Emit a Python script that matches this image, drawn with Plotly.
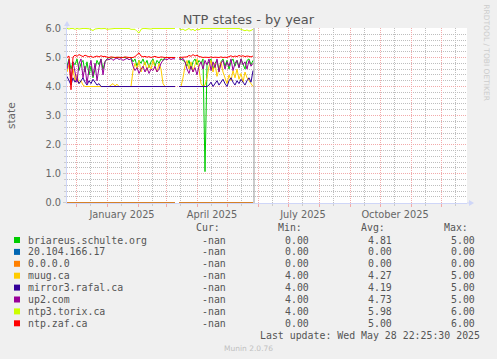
import plotly.graph_objects as go
import pandas as pd

# ---------------- data (2-day steps) ----------------
dates = pd.date_range("2024-11-22", periods=94, freq="2D")

green = [4.7, 4.95, 4.6, 4.85, 4.75, 4.95, 4.55, 4.8, 4.9, 4.5, 4.85,
         4.4, 4.7, 4.3, 4.6, 4.9, 4.75, 4.95, 4.6, 4.85, 4.95,
         5.0, 4.97, 5.0, 5.0, 5.0, 4.98, 5.0, 5.0, 5.0, 4.97, 5.0, 5.0,
         4.85, 4.95, 4.7, 4.9, 4.8, 4.95, 4.75, 4.9, 4.65, 4.85, 4.95, 4.7, 4.9, 4.8, 4.95, 4.9,
         5.0, 5.0, 5.0, 5.0, 5.0, 5.0,
         None,
         5.0, 4.95, 4.9, 4.85,
         4.7, 4.9, 4.6, 4.85, 4.95, 4.75, 4.9,
         4.8, 4.95, 1.07, 4.75,
         4.85, 4.95, 4.6, 4.8, 4.9, 4.55, 4.85, 4.95, 4.7, 4.9,
         4.6, 4.85, 4.95, 4.7, 4.9, 4.65, 4.95, 4.8, 4.6, 4.9, 4.95, 4.75, 4.9]

blue = [0.0, 0.0, 0.0, 0.0, 0.0, 0.0, 0.0, 0.0, 0.0, 0.0, 0.0, 0.0, 0.0, 0.0, 0.0, 0.0,
        0.0, 0.0, 0.0, 0.0, 0.0, 0.0, 0.0, 0.0, 0.0, 0.0, 0.0, 0.0, 0.0, 0.0, 0.0, 0.0,
        0.0, 0.0, 0.0, 0.0, 0.0, 0.0, 0.0, 0.0, 0.0, 0.0, 0.0, 0.0, 0.0, 0.0, 0.0, 0.0,
        0.0, 0.0, 0.0, 0.0, 0.0, 0.0, 0.0,
        None,
        0.0, 0.0, 0.0, 0.0, 0.0, 0.0, 0.0, 0.0, 0.0, 0.0, 0.0, 0.0, 0.0, 0.0, 0.0, 0.0,
        0.0, 0.0, 0.0, 0.0, 0.0, 0.0, 0.0, 0.0, 0.0, 0.0, 0.0, 0.0, 0.0, 0.0, 0.0, 0.0,
        0.0, 0.0, 0.0, 0.0, 0.0, 0.0]

orange = [0.0, 0.0, 0.0, 0.0, 0.0, 0.0, 0.0, 0.0, 0.0, 0.0, 0.0, 0.0, 0.0, 0.0, 0.0, 0.0,
          0.0, 0.0, 0.0, 0.0, 0.0, 0.0, 0.0, 0.0, 0.0, 0.0, 0.0, 0.0, 0.0, 0.0, 0.0, 0.0,
          0.0, 0.0, 0.0, 0.0, 0.0, 0.0, 0.0, 0.0, 0.0, 0.0, 0.0, 0.0, 0.0, 0.0, 0.0, 0.0,
          0.0, 0.0, 0.0, 0.0, 0.0, 0.0, 0.0,
          None,
          0.0, 0.0, 0.0, 0.0, 0.0, 0.0, 0.0, 0.0, 0.0, 0.0, 0.0, 0.0, 0.0, 0.0, 0.0, 0.0,
          0.0, 0.0, 0.0, 0.0, 0.0, 0.0, 0.0, 0.0, 0.0, 0.0, 0.0, 0.0, 0.0, 0.0, 0.0, 0.0,
          0.0, 0.0, 0.0, 0.0, 0.0, 0.0]

yellow = [4.5, 4.75, 4.3, 4.6, 4.2, 4.4, 4.1, 4.2, 4.05, 4.0,
          4.0, 4.0, 4.0, 4.0, 4.0, 4.0, 4.0, 4.0, 4.0, 4.0, 4.0,
          4.0, 4.05, 4.1, 4.02, 4.08, 4.0,
          4.0, 4.0, 4.0, 4.0, 4.0, 4.0,
          4.55, 4.8, 4.6, 4.9, 4.5, 4.7, 4.85, 4.55, 4.75, 4.6, 4.9, 4.65, 4.5, 4.8, 4.6, 4.1,
          4.0, 4.0, 4.0, 4.0, 4.0, 4.0,
          None,
          4.0, 4.0, 4.3, 4.7,
          4.9, 4.6, 4.85, 4.5, 4.75, 4.95, 4.6,
          4.1, 4.0, 4.05, 4.3,
          4.7, 4.9, 4.5, 4.8, 4.35, 4.6, 4.85, 4.5, 4.3, 4.1,
          4.4, 4.2, 4.55, 4.3, 4.6, 4.25, 4.45, 4.15, 4.5, 4.3, 4.2, 4.1, 4.0]

indigo = [4.35, 4.2, 4.05, 4.3, 4.15, 4.25, 4.1, 4.2, 4.3, 4.15, 4.05, 4.2, 4.1, 4.25, 4.15, 4.05, 4.1,
          4.0, 4.0, 4.0, 4.0, 4.0, 4.0, 4.0, 4.0, 4.0, 4.0, 4.0, 4.0, 4.0, 4.0, 4.0, 4.0, 4.0, 4.0, 4.0,
          4.0, 4.0, 4.0, 4.0, 4.0, 4.0, 4.0, 4.0, 4.0, 4.0, 4.0, 4.0, 4.0, 4.0, 4.0, 4.0, 4.0, 4.0, 4.0,
          None,
          4.0, 4.0, 4.0, 4.0, 4.0, 4.0, 4.0, 4.0, 4.0, 4.0, 4.0, 4.0, 4.0, 4.0, 4.0,
          4.05, 4.15, 4.0, 4.1, 4.2, 4.05, 4.15, 4.25, 4.1, 4.0, 4.2, 4.3, 4.15, 4.05, 4.2, 4.1,
          4.25, 4.15, 4.05, 4.2, 4.3, 4.15, 4.55]

purple = [4.6, 4.9, 4.2, 4.85, 4.5, 4.15, 4.8, 4.95, 4.3, 4.7, 4.1, 4.6, 4.9, 4.35, 4.8, 4.2,
          4.65, 4.95, 4.4, 4.85, 4.95,
          4.92, 4.97, 4.9, 4.95, 4.98, 4.93, 4.96, 4.9, 4.95, 4.97, 4.92, 4.96,
          4.7, 4.55, 4.65, 4.45, 4.6, 4.7, 4.5, 4.65, 4.45, 4.6, 4.55, 4.7, 4.5, 4.6, 4.8, 4.9,
          4.95, 4.92, 4.97, 4.93, 4.96, 4.95,
          None,
          4.95, 4.92, 4.97, 4.85,
          4.6, 4.45, 4.7, 4.5, 4.65, 4.4, 4.7,
          4.85, 4.6, 4.9, 4.75,
          4.95, 4.55, 4.85, 4.65, 4.95, 4.5, 4.8, 4.9, 4.6, 4.85,
          4.7, 4.95, 4.55, 4.8, 4.9, 4.65, 4.95, 4.75, 4.85, 4.6, 4.9, 4.7, 4.8]

lime = [6.0, 5.98, 6.0, 6.0, 5.97, 6.0,
        5.98, 6.0, 6.0, 6.0, 6.0, 5.99,
        5.96, 5.93, 5.98,
        6.0, 6.0, 5.99, 6.0, 6.0, 5.97,
        5.98, 6.0, 6.0, 6.0, 6.0, 6.0,
        6.0, 5.99, 6.0, 6.0, 6.0, 5.97,
        5.98, 5.97, 5.9, 5.84, 5.97,
        6.0, 6.0, 5.99, 6.0, 5.98, 6.0, 6.0, 6.0, 6.0, 5.98, 6.0,
        6.0, 6.0, 6.0, 6.0, 6.0, 6.0,
        None,
        6.0, 5.95, 5.98, 5.93, 5.96, 6.0, 5.94, 5.97, 5.92, 5.98, 5.95,
        6.0, 6.0, 5.99, 6.0, 6.0, 6.0, 6.0, 5.98, 6.0, 6.0, 6.0, 5.99, 6.0, 6.0,
        6.0, 6.0, 5.98, 6.0, 6.0, 6.0, 5.97, 5.94, 5.92, 5.95, 5.91, 5.93, 5.97]

red = [5.0, 5.05, 3.89, 5.02, 5.08, 5.04, 5.1, 5.06, 5.03, 5.08, 5.04, 5.02, 5.05, 5.0,
       5.03, 5.05, 5.02, 5.06, 5.03, 5.04, 5.01,
       5.0, 5.02, 5.0, 5.0, 5.01, 5.0, 5.0, 5.0, 5.02, 5.0, 5.0, 5.0,
       5.0, 5.03, 5.08, 5.16, 5.05,
       5.02, 5.04, 5.01, 5.03, 5.0, 5.02, 5.04, 5.01, 5.0, 5.02, 5.0,
       5.0, 5.0, 5.0, 5.0, 5.0, 5.0,
       None,
       5.0, 5.0, 5.0, 5.0, 5.02,
       5.07, 5.04, 5.1, 5.05, 5.08, 5.03,
       5.02, 5.0, 5.01, 5.0, 5.0, 5.02, 5.0, 5.01, 5.0, 5.0, 5.02, 5.0, 5.01, 5.0,
       5.03, 5.06, 5.02, 5.05, 5.03, 5.07, 5.04, 5.06, 5.03, 5.05, 5.04, 5.02, 5.05]

names = ["briareus.schulte.org", "20.104.166.17", "0.0.0.0", "muug.ca",
         "mirror3.rafal.ca", "up2.com", "ntp3.torix.ca", "ntp.zaf.ca"]
colors = ["#00CC00", "#0066B3", "#FF8000", "#FFCC00",
          "#330099", "#990099", "#CCFF00", "#FF0000"]
series = [green, blue, orange, yellow, indigo, purple, lime, red]

cur_vals = ["-nan"] * 8
min_vals = ["0.00", "0.00", "0.00", "4.00", "4.00", "4.00", "4.00", "0.00"]
avg_vals = ["4.81", "0.00", "0.00", "4.27", "4.19", "4.73", "5.98", "5.00"]
max_vals = ["5.00", "0.00", "0.00", "5.00", "5.00", "5.00", "6.00", "6.00"]

y_tick_vals = [0, 1, 2, 3, 4, 5, 6]
y_tick_text = ["0.0", "1.0", "2.0", "3.0", "4.0", "5.0", "6.0"]
x_label_dates = ["2025-01-16", "2025-04-16", "2025-07-16", "2025-10-16"]
x_label_text = ["January 2025", "April 2025", "July 2025", "October 2025"]
x_range = ["2024-11-22", "2025-12-27"]
last_update = "2025-05-28"

title = "NTP states - by year"
y_title = "state"
last_update_text = "Last update: Wed May 28 22:25:30 2025"
footer = "Munin 2.0.76"
watermark = "RRDTOOL / TOBI OETIKER"

# ---------------- layout helpers ----------------
W, H = 497, 359
L, T, PW, PH = 67, 28, 400, 175


def px(x):
    return (x - L) / PW


def py(y):
    return (T + PH - y) / PH


TEXT = "#555555"
MONO = "DejaVu Sans Mono"
SANS = "DejaVu Sans"
AXIS = "#CFD6F8"
MGRID = "#F2AAAA"
GRID = "#BEBEBE"
DASH = "1px,1px"

fig = go.Figure()
for name, color, vals in zip(names, colors, series):
    fig.add_trace(go.Scatter(x=dates, y=vals, mode="lines", name=name,
                             line=dict(color=color, width=1),
                             connectgaps=False, showlegend=False,
                             hoverinfo="skip"))

# invisible trace carrying the label axis
fig.add_trace(go.Scatter(x=x_label_dates, y=[None] * len(x_label_dates),
                         xaxis="x2", mode="lines", showlegend=False,
                         hoverinfo="skip"))

shapes = []
annotations = []

# "now" rule
shapes.append(dict(type="line", xref="x", yref="paper", x0=last_update, x1=last_update,
                   y0=0, y1=1, line=dict(color="#999999", width=1), layer="above"))

# axis arrows
shapes.append(dict(type="line", xref="paper", yref="paper",
                   x0=px(67), x1=px(67), y0=py(28), y1=py(25),
                   line=dict(color=AXIS, width=1)))
shapes.append(dict(type="path", xref="paper", yref="paper",
                   path=f"M {px(64)} {py(26)} L {px(67)} {py(21)} L {px(70)} {py(26)} Z",
                   fillcolor=AXIS, line=dict(color=AXIS, width=0)))
shapes.append(dict(type="line", xref="paper", yref="paper",
                   x0=px(467), x1=px(470), y0=py(203), y1=py(203),
                   line=dict(color=AXIS, width=1)))
shapes.append(dict(type="path", xref="paper", yref="paper",
                   path=f"M {px(469)} {py(200)} L {px(474)} {py(203)} L {px(469)} {py(206)} Z",
                   fillcolor=AXIS, line=dict(color=AXIS, width=0)))

# legend table
header_y = 227.7
row_y0 = 240.0
row_dy = 11.9
for txt, xr in zip(["Cur:", "Min:", "Avg:", "Max:"], [221.7, 304.3, 387.3, 470.0]):
    annotations.append(dict(text=txt, x=px(xr), y=py(header_y), xref="paper", yref="paper",
                            xanchor="right", yanchor="middle", showarrow=False,
                            font=dict(family=MONO, size=9.9, color=TEXT)))
for i, name in enumerate(names):
    yy = row_y0 + row_dy * i
    shapes.append(dict(type="rect", xref="paper", yref="paper",
                       x0=px(14), x1=px(20), y0=py(yy - 3), y1=py(yy + 3),
                       fillcolor=colors[i], line=dict(width=0)))
    annotations.append(dict(text=name, x=px(26), y=py(yy), xref="paper", yref="paper",
                            xanchor="left", yanchor="middle", showarrow=False,
                            font=dict(family=MONO, size=9.9, color=TEXT)))
    for txt, xr in zip([cur_vals[i], min_vals[i], avg_vals[i], max_vals[i]],
                       [228.3, 311.0, 394.0, 476.7]):
        annotations.append(dict(text=txt, x=px(xr), y=py(yy), xref="paper", yref="paper",
                                xanchor="right", yanchor="middle", showarrow=False,
                                font=dict(family=MONO, size=9.9, color=TEXT)))

annotations.append(dict(text=last_update_text, x=px(482.3), y=py(335.7), xref="paper",
                        yref="paper", xanchor="right", yanchor="middle", showarrow=False,
                        font=dict(family=MONO, size=9.9, color=TEXT)))
annotations.append(dict(text=footer, x=px(248), y=py(348.3), xref="paper", yref="paper",
                        xanchor="center", yanchor="middle", showarrow=False,
                        font=dict(family=SANS, size=7.5, color="#C0C0C0")))
annotations.append(dict(text=y_title, x=px(11), y=py(115), xref="paper", yref="paper",
                        xanchor="center", yanchor="middle", showarrow=False, textangle=-90,
                        font=dict(family=SANS, size=10.5, color="#666666")))
annotations.append(dict(text=watermark, x=px(486.7), y=py(53), xref="paper", yref="paper",
                        xanchor="center", yanchor="middle", showarrow=False, textangle=90,
                        font=dict(family=SANS, size=7.5, color="#CCCCCC")))

fig.update_layout(
    width=W, height=H, autosize=False,
    margin=dict(l=L, r=W - L - PW, t=T, b=H - T - PH, pad=0),
    paper_bgcolor="#F0F0F0", plot_bgcolor="#FFFFFF",
    title=dict(text=title, x=248.5 / W, y=1 - 19.3 / H, xref="container", yref="container",
               xanchor="center", yanchor="middle",
               font=dict(family=SANS, size=13, color="#555555")),
    xaxis=dict(type="date", range=x_range, tickmode="linear", tick0="2024-12-01", dtick="M1",
               showticklabels=False, ticks="outside", ticklen=3, tickcolor=MGRID,
               showgrid=True, gridcolor=MGRID, griddash=DASH, gridwidth=1,
               minor=dict(tick0="2024-11-15", dtick="M1", showgrid=True, gridcolor=GRID,
                          griddash=DASH, ticks="outside", ticklen=2, tickcolor="#CCCCCC"),
               showline=True, linecolor=AXIS, linewidth=1, zeroline=False,
               layer="below traces", fixedrange=True),
    xaxis2=dict(type="date", range=x_range, overlaying="x", anchor="y", side="bottom",
                tickmode="array", tickvals=x_label_dates, ticktext=x_label_text,
                showgrid=False, ticks="outside", ticklen=2, tickcolor="rgba(0,0,0,0)",
                showline=False, zeroline=False,
                tickfont=dict(family=SANS, size=9.8, color="#666666"), fixedrange=True),
    yaxis=dict(range=[-0.01, 6.015], tickmode="array", tickvals=y_tick_vals,
               ticktext=y_tick_text, ticks="outside", ticklen=3, tickcolor="#CCCCCC",
               showgrid=True, gridcolor=MGRID, griddash=DASH, gridwidth=1,
               minor=dict(dtick=0.2, showgrid=True, gridcolor=GRID, griddash=DASH,
                          ticks="outside", ticklen=2, tickcolor="#CCCCCC"),
               showline=True, linecolor=AXIS, linewidth=1, zeroline=False,
               tickfont=dict(family=SANS, size=9.8, color="#666666"),
               layer="below traces", fixedrange=True),
    shapes=shapes,
    annotations=annotations,
    showlegend=False,
)

fig.write_html("out.html", config={"displayModeBar": False},
               post_script="document.body.style.margin='0';")
